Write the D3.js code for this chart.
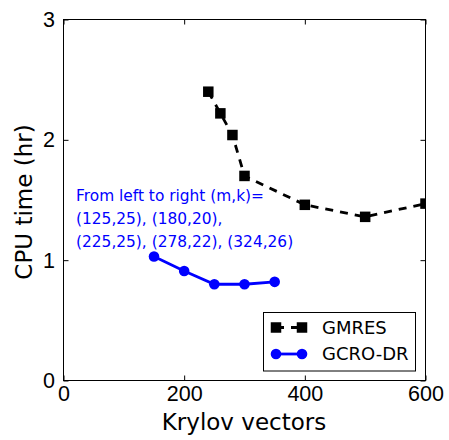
<!DOCTYPE html>
<html>
<head>
<meta charset="utf-8">
<script src="https://cdn.jsdelivr.net/npm/d3@7"></script>
<style>
  body { margin: 0; background: #fff; }
  svg { display: block; font-family: "DejaVu Sans", sans-serif; }
</style>
</head>
<body>
<svg id="chart" width="449" height="440"></svg>
<script>
// CPU time versus number of Krylov vectors for two solvers
const gmresX = [240, 260, 280, 300, 400, 500, 600];
const gmresY = [2.40, 2.22, 2.04, 1.70, 1.46, 1.36, 1.47];
const gcroX = [150, 200, 250, 300, 350];
const gcroY = [1.03, 0.91, 0.80, 0.80, 0.82];
const xTicks = [0, 200, 400, 600];
const yTicks = [0, 1, 2, 3];
const seriesNames = ["GMRES", "GCRO-DR"];
const noteLines = [
  "From left to right (m,k)=",
  "(125,25), (180,20),",
  "(225,25), (278,22), (324,26)"
];

const svg = d3.select("#chart");
const m = { left: 63.5, right: 425.5, top: 19.5, bottom: 380.5 };

const x = d3.scaleLinear().domain([0, 600]).range([m.left, m.right]);
const y = d3.scaleLinear().domain([0, 3]).range([m.bottom, m.top]);

svg.append("defs").append("clipPath").attr("id", "plotclip")
  .append("rect")
  .attr("x", m.left).attr("y", m.top)
  .attr("width", m.right - m.left).attr("height", m.bottom - m.top);

// Axes with inward ticks on all four sides
const tickLen = 5;
const tickFont = 21.5;
const axisStyle = g => {
  g.select(".domain").remove();
  g.selectAll(".tick line").attr("stroke", "#000").attr("stroke-width", 1);
};
svg.append("g").attr("transform", `translate(0,${m.bottom})`)
  .call(d3.axisBottom(x).tickValues(xTicks).tickSize(-tickLen).tickFormat(d3.format("d")))
  .call(axisStyle)
  .call(g => g.selectAll("text").attr("font-size", tickFont).attr("fill", "#000")
    .attr("y", 20.5).attr("dy", null));
svg.append("g").attr("transform", `translate(0,${m.top})`)
  .call(d3.axisTop(x).tickValues(xTicks).tickSize(-tickLen).tickFormat(""))
  .call(axisStyle);
svg.append("g").attr("transform", `translate(${m.left},0)`)
  .call(d3.axisLeft(y).tickValues(yTicks).tickSize(-tickLen).tickFormat(d3.format("d")))
  .call(axisStyle)
  .call(g => g.selectAll("text").attr("font-size", tickFont).attr("fill", "#000")
    .attr("x", -8.5));
svg.append("g").attr("transform", `translate(${m.right},0)`)
  .call(d3.axisRight(y).tickValues(yTicks).tickSize(-tickLen).tickFormat(""))
  .call(axisStyle);

svg.append("rect")
  .attr("x", m.left).attr("y", m.top)
  .attr("width", m.right - m.left).attr("height", m.bottom - m.top)
  .attr("fill", "none").attr("stroke", "#000").attr("stroke-width", 1);

// Axis titles
svg.append("text")
  .attr("x", 244).attr("y", 430)
  .attr("text-anchor", "middle").attr("font-size", 23).attr("fill", "#000")
  .text("Krylov vectors");
svg.append("text")
  .attr("transform", "translate(31.5,202) rotate(-90)")
  .attr("text-anchor", "middle").attr("font-size", 23).attr("fill", "#000")
  .text("CPU time (hr)");

// Series
const plot = svg.append("g").attr("clip-path", "url(#plotclip)");
const line = d3.line().x(d => x(d[0])).y(d => y(d[1]));
const sq = 10.5, rad = 5.3, lw = 2.8, dash = "8,7";

const gmres = gmresX.map((v, i) => [v, gmresY[i]]);
const gcro = gcroX.map((v, i) => [v, gcroY[i]]);

plot.append("path").datum(gmres)
  .attr("d", line).attr("fill", "none")
  .attr("stroke", "#000").attr("stroke-width", lw).attr("stroke-dasharray", dash);
plot.selectAll(".sq").data(gmres).enter().append("rect")
  .attr("x", d => x(d[0]) - sq / 2).attr("y", d => y(d[1]) - sq / 2)
  .attr("width", sq).attr("height", sq).attr("fill", "#000");

plot.append("path").datum(gcro)
  .attr("d", line).attr("fill", "none")
  .attr("stroke", "#0000ff").attr("stroke-width", lw);
plot.selectAll(".dot").data(gcro).enter().append("circle")
  .attr("cx", d => x(d[0])).attr("cy", d => y(d[1]))
  .attr("r", rad).attr("fill", "#0000ff");

// Annotation
svg.append("g").selectAll("text").data(noteLines).enter().append("text")
  .attr("x", 76).attr("y", (d, i) => 200.5 + i * 23.2)
  .attr("font-size", 15.4).attr("fill", "#0000ff")
  .text(d => d);

// Legend
const lg = svg.append("g");
lg.append("rect")
  .attr("x", 263.5).attr("y", 312.5).attr("width", 152).attr("height", 58.5)
  .attr("fill", "#fff").attr("stroke", "#000").attr("stroke-width", 1);
const rows = [327.5, 354];
const lx = [276, 302];
lg.append("line").attr("x1", lx[0]).attr("x2", lx[1]).attr("y1", rows[0]).attr("y2", rows[0])
  .attr("stroke", "#000").attr("stroke-width", lw).attr("stroke-dasharray", dash);
lx.forEach(cx => lg.append("rect")
  .attr("x", cx - sq / 2).attr("y", rows[0] - sq / 2)
  .attr("width", sq).attr("height", sq).attr("fill", "#000"));
lg.append("line").attr("x1", lx[0]).attr("x2", lx[1]).attr("y1", rows[1]).attr("y2", rows[1])
  .attr("stroke", "#0000ff").attr("stroke-width", lw);
lx.forEach(cx => lg.append("circle")
  .attr("cx", cx).attr("cy", rows[1]).attr("r", rad).attr("fill", "#0000ff"));
lg.selectAll(".lt").data(seriesNames).enter().append("text")
  .attr("x", 322).attr("y", (d, i) => rows[i])
  .attr("dy", "0.36em")
  .attr("font-size", 18).attr("fill", "#000")
  .text(d => d);
</script>
</body>
</html>
